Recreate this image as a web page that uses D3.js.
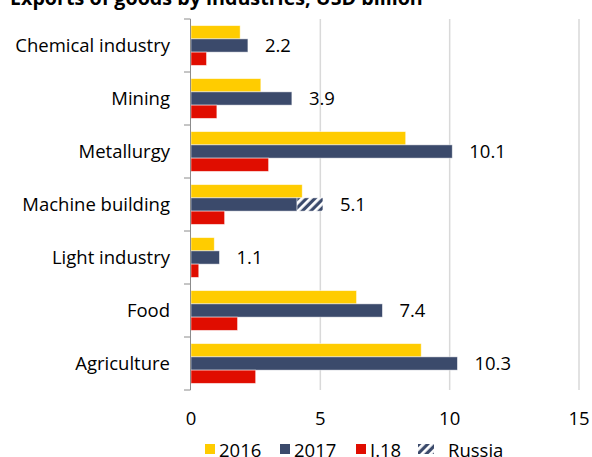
<!DOCTYPE html>
<html>
<head>
<meta charset="utf-8">
<script src="https://cdn.jsdelivr.net/npm/d3@7"></script>
<style>
body{margin:0;background:#fff;}
text{font-family:"Open Sans",Lato,sans-serif;fill:#000;}
</style>
</head>
<body>
<script>
const svg_width = 592,svg_height = 457;

// data
var categories = ["Chemical industry","Mining","Metallurgy","Machine building","Light industry","Food","Agriculture"];
var series = ["2016","2017","I.18"];
var v2016 = [1.9,2.7,8.3,4.3,0.9,6.4,8.9];
var v2017 = [2.2,3.9,10.1,5.1,1.1,7.4,10.3];
var vI18 = [0.6,1.0,3.0,1.3,0.3,1.8,2.5];
var russia2017 = [0,0,0,1.0,0,0,0];
var xTicks = [0,5,10,15];
var colors = {"2016":"#FFCC00","2017":"#3B4A6B","I.18":"#E00D00"};
const fs = "18.5px";

var svgContainer = d3.select("body")
.append("svg")
.attr("width",svg_width)
.attr("height",svg_height);

var defs = svgContainer.append("defs");
var pat = defs.append("pattern")
.attr("id","hatch")
.attr("patternUnits","userSpaceOnUse")
.attr("width",6)
.attr("height",6)
.attr("patternTransform","rotate(45)");
pat.append("rect").attr("width",6).attr("height",6).attr("fill",colors["2017"]);
pat.append("rect").attr("x",0).attr("width",2.8).attr("height",6).attr("fill","#fff");

var x = d3.scaleLinear().domain([0,15]).range([191,579]);
var y = d3.scaleBand().domain(categories).range([19,390]).paddingInner(0.25).paddingOuter(0.125);
var ySub = d3.scaleBand().domain(series).range([0,y.bandwidth()]);
var boundary = d3.scaleLinear().domain([0,categories.length]).range([19,390]);

//title (cut off by the top edge)
svgContainer.append("text")
.attr("x",10)
.attr("y",5)
.style("font-weight","bold")
.style("font-size","19.7px")
.text("Exports of goods by industries, USD billion");

//grid lines
svgContainer.append("g").selectAll("line")
.data(xTicks.slice(1))
.enter()
.append("line")
.attr("x1",function(d){return x(d)})
.attr("x2",function(d){return x(d)})
.attr("y1",19)
.attr("y2",390)
.attr("stroke","#d9d9d9")
.attr("stroke-width",1.5);

//x tick labels
svgContainer.append("g").selectAll("text")
.data(xTicks)
.enter()
.append("text")
.attr("x",function(d){return x(d)})
.attr("y",425)
.attr("text-anchor","middle")
.style("font-size",fs)
.text(function(d){return d});

//bars
var rows = categories.map(function(c,i){
	return {cat:c,vals:[{s:"2016",v:v2016[i]},{s:"2017",v:v2017[i]},{s:"I.18",v:vI18[i]}],russia:russia2017[i]};
});
var groups = svgContainer.append("g").selectAll("g")
.data(rows)
.enter()
.append("g")
.attr("transform",function(d){return "translate(0,"+y(d.cat)+")"});

groups.selectAll("rect.bar")
.data(function(d){return d.vals.map(function(o){return {s:o.s,v:o.v,r:o.s=="2017"?d.russia:0}})})
.enter()
.append("rect")
.attr("class","bar")
.attr("x",x(0))
.attr("y",function(d){return ySub(d.s)})
.attr("width",function(d){return x(d.v - d.r) - x(0)})
.attr("height",ySub.bandwidth())
.attr("fill",function(d){return colors[d.s]})
.attr("stroke","#fff")
.attr("stroke-opacity",0.6)
.attr("stroke-width",0.8);

//russia part of 2017 (hatched)
groups.filter(function(d){return d.russia > 0})
.append("rect")
.attr("x",function(d){var i = categories.indexOf(d.cat);return x(v2017[i] - d.russia)})
.attr("y",ySub("2017"))
.attr("width",function(d){return x(d.russia) - x(0)})
.attr("height",ySub.bandwidth())
.attr("fill","url(#hatch)")
.attr("stroke","#fff")
.attr("stroke-opacity",0.6)
.attr("stroke-width",0.8);

//value labels for 2017
groups.append("text")
.attr("x",function(d,i){return x(v2017[i]) + 17})
.attr("y",ySub("2017") + ySub.bandwidth()/2)
.attr("dy","0.36em")
.style("font-size",fs)
.text(function(d,i){return v2017[i].toFixed(1)});

//category labels
groups.append("text")
.attr("x",170)
.attr("y",y.bandwidth()/2)
.attr("dy","0.36em")
.attr("text-anchor","end")
.style("font-size",fs)
.text(function(d){return d.cat});

//vertical axis with ticks between categories
var axisG = svgContainer.append("g");
axisG.append("line")
.attr("x1",190.5).attr("x2",190.5)
.attr("y1",19).attr("y2",390)
.attr("stroke","#8c8c8c")
.attr("stroke-width",1);
axisG.selectAll("line.tick")
.data(d3.range(categories.length + 1))
.enter()
.append("line")
.attr("class","tick")
.attr("x1",184).attr("x2",190.5)
.attr("y1",function(d){return boundary(d)})
.attr("y2",function(d){return boundary(d)})
.attr("stroke","#8c8c8c")
.attr("stroke-width",1);

//legend (cut off at the bottom)
var legendItems = [{s:"2016",x:205,fill:colors["2016"]},{s:"2017",x:280,fill:colors["2017"]},{s:"I.18",x:356,fill:colors["I.18"]},{s:"Russia",x:418,fill:"url(#hatch)"}];
var legend = svgContainer.append("g");
legend.selectAll("rect")
.data(legendItems)
.enter()
.append("rect")
.attr("x",function(d){return d.x})
.attr("y",444)
.attr("width",function(d){return d.s=="Russia"?16:10})
.attr("height",10)
.attr("fill",function(d){return d.fill});
legend.selectAll("text")
.data(legendItems)
.enter()
.append("text")
.attr("x",function(d){return d.x + (d.s=="Russia"?30:14)})
.attr("y",457)
.style("font-size",fs)
.text(function(d){return d.s});
</script>
</body>
</html>
